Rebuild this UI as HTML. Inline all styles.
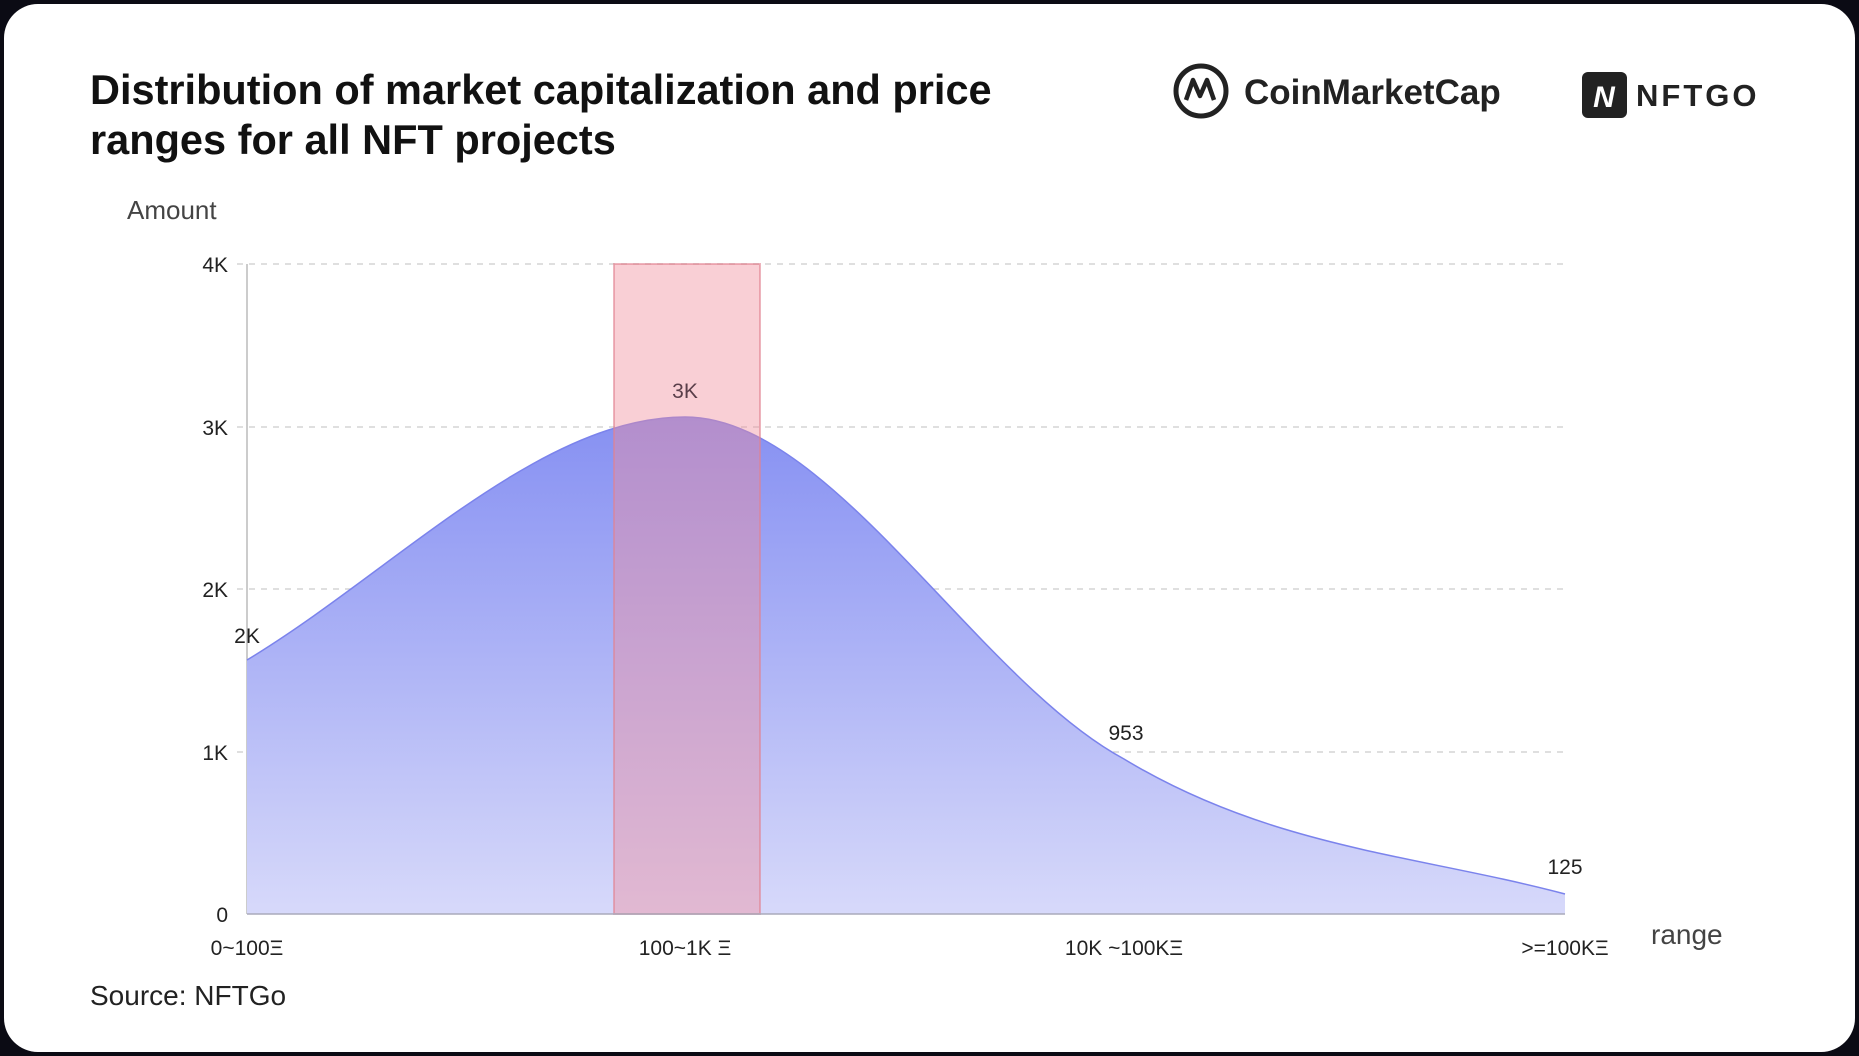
<!DOCTYPE html>
<html><head><meta charset="utf-8"><style>
html,body{margin:0;padding:0;background:#0b0b14;width:1859px;height:1056px;overflow:hidden}
.card{position:absolute;left:4px;top:4px;width:1851px;height:1048px;background:#fff;border-radius:34px}
svg{position:absolute;left:0;top:0}
text{font-family:"Liberation Sans",sans-serif}
</style></head><body>
<div class="card"></div>
<svg width="1859" height="1056" viewBox="0 0 1859 1056">
<defs>
<linearGradient id="g" x1="0" y1="417" x2="0" y2="914" gradientUnits="userSpaceOnUse">
<stop offset="0" stop-color="#8690f2"/><stop offset="1" stop-color="#d7d9fa"/>
</linearGradient>
</defs>
<text x="90" y="104" font-size="41.5" font-weight="bold" fill="#111">Distribution of market capitalization and price</text>
<text x="90" y="154" font-size="41.5" font-weight="bold" fill="#111">ranges for all NFT projects</text>
<circle cx="1201" cy="91" r="25" fill="none" stroke="#222" stroke-width="5"/>
<path d="M1186 100 L1193 80 L1200 96 L1207 80 L1214 100" fill="none" stroke="#222" stroke-width="4.5" stroke-linejoin="round"/>
<text x="1244" y="104" font-size="35" font-weight="bold" fill="#222">CoinMarketCap</text>
<rect x="1582" y="72" width="45" height="46" rx="6" fill="#222"/>
<text x="1604" y="107" font-size="30" font-weight="bold" font-style="italic" fill="#fff" text-anchor="middle">N</text>
<text x="1636" y="106" font-size="31" font-weight="bold" fill="#222" letter-spacing="3">NFTGO</text>
<text x="127" y="219" font-size="26" fill="#444">Amount</text>
<g stroke="#ccc" stroke-width="1.3" stroke-dasharray="6,6">
<line x1="237" y1="264" x2="1565" y2="264"/>
<line x1="237" y1="427" x2="1565" y2="427"/>
<line x1="237" y1="589" x2="1565" y2="589"/>
<line x1="237" y1="752" x2="1565" y2="752"/>
</g>
<line x1="247" y1="264" x2="247" y2="914" stroke="#bbb" stroke-width="1.5"/>
<g font-size="21" fill="#222" text-anchor="end">
<text x="228" y="272">4K</text><text x="228" y="435">3K</text><text x="228" y="597">2K</text><text x="228" y="760">1K</text><text x="228" y="922">0</text>
</g>
<path d="M247 660 C393 572 539 417 685 417 C831 417 977 680 1124 759 C1271 848 1418 855 1565 894 L1565 914 L247 914 Z" fill="url(#g)"/>
<path d="M247 660 C393 572 539 417 685 417 C831 417 977 680 1124 759 C1271 848 1418 855 1565 894" fill="none" stroke="#7b83ec" stroke-width="1.5"/>
<rect x="614" y="264" width="146" height="650" fill="rgba(240,140,155,0.42)" stroke="rgba(225,130,145,0.6)" stroke-width="2"/>
<line x1="247" y1="914" x2="1565" y2="914" stroke="#aab" stroke-width="1.5"/>
<g font-size="21" fill="#222" text-anchor="middle">
<text x="247" y="643">2K</text>
<text x="685" y="398" fill="#5a3f4a">3K</text>
<text x="1126" y="740">953</text>
<text x="1565" y="874">125</text>
<text x="247" y="955">0~100Ξ</text>
<text x="685" y="955">100~1K Ξ</text>
<text x="1124" y="955">10K ~100KΞ</text>
<text x="1565" y="955">&gt;=100KΞ</text>
</g>
<text x="1651" y="944" font-size="28" fill="#444">range</text>
<text x="90" y="1005" font-size="28" fill="#222">Source: NFTGo</text>
</svg>
</body></html>
